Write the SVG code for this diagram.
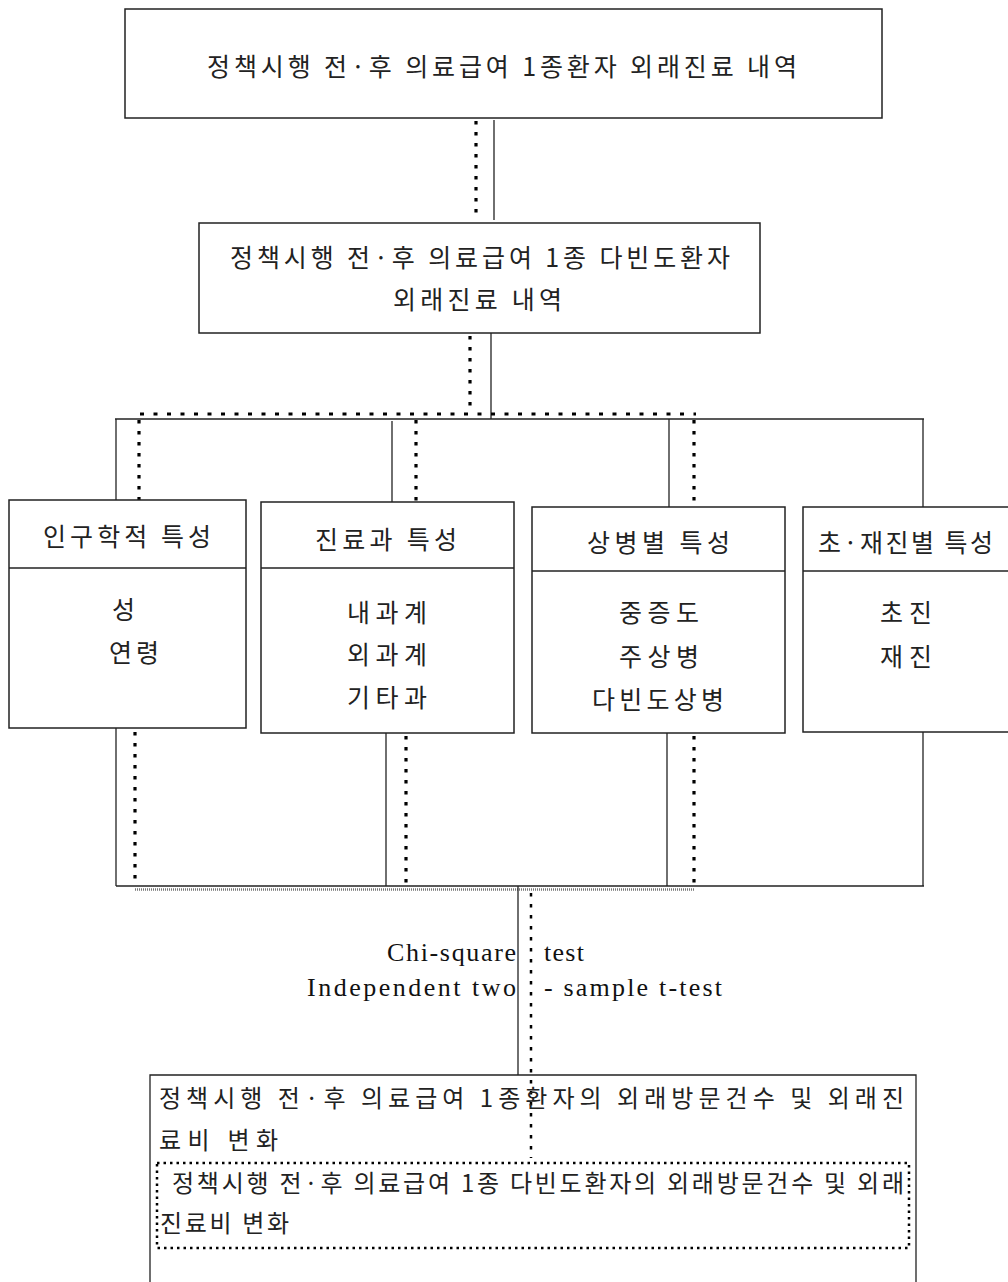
<svg xmlns="http://www.w3.org/2000/svg" width="1008" height="1282" viewBox="0 0 1008 1282">
<style>
.box{fill:#fff;stroke:#222;stroke-width:1.5}
.ln{fill:none;stroke:#222;stroke-width:1.3}
.dot{fill:none;stroke:#000;stroke-width:3.2;stroke-dasharray:3.5 7.5}
.doth{fill:none;stroke:#000;stroke-width:3.2;stroke-dasharray:4 9.5}
.dotf{fill:none;stroke:#000;stroke-width:2.5;stroke-dasharray:2.5 4}
.kr{font-family:"Noto Sans CJK KR","Noto Sans",sans-serif;font-size:25px;fill:#222}
.krs{font-family:"Noto Sans CJK KR","Noto Sans",sans-serif;font-size:24px;fill:#222}
.en{font-family:"Liberation Serif","DejaVu Serif",serif;font-size:26px;fill:#111}
</style>
<rect width="1008" height="1282" fill="#fff"/>
<g id="connectors">
<line class="dot" x1="476" y1="121" x2="476" y2="220"/>
<line class="ln" x1="494" y1="120" x2="494" y2="220"/>
<line class="dot" x1="470" y1="336" x2="470" y2="412"/>
<line class="ln" x1="491" y1="333" x2="491" y2="419"/>
<line class="doth" x1="140" y1="414" x2="696" y2="414"/>
<line class="ln" x1="115" y1="419" x2="924" y2="419"/>
<line class="ln" x1="116" y1="419" x2="116" y2="500"/>
<line class="ln" x1="392" y1="421" x2="392" y2="502"/>
<line class="ln" x1="669" y1="419" x2="669" y2="507"/>
<line class="ln" x1="923" y1="419" x2="923" y2="507"/>
<line class="dot" x1="139" y1="420" x2="139" y2="500"/>
<line class="dot" x1="416" y1="420" x2="416" y2="502"/>
<line class="dot" x1="694" y1="420" x2="694" y2="507"/>
<line class="ln" x1="116" y1="728" x2="116" y2="886"/>
<line class="ln" x1="386" y1="733" x2="386" y2="886"/>
<line class="ln" x1="667" y1="733" x2="667" y2="886"/>
<line class="ln" x1="923" y1="732" x2="923" y2="886"/>
<line class="dot" x1="135" y1="732" x2="135" y2="884"/>
<line class="dot" x1="406" y1="736" x2="406" y2="884"/>
<line class="dot" x1="694" y1="736" x2="694" y2="884"/>
<line class="ln" x1="116" y1="886" x2="924" y2="886"/>
<line x1="135" y1="889.5" x2="694" y2="889.5" stroke="#777" stroke-width="2.5" stroke-dasharray="1 1"/>
<line class="ln" x1="518" y1="886" x2="518" y2="1075"/>
<line x1="531" y1="893" x2="531" y2="1158" stroke="#000" stroke-width="2.5" stroke-dasharray="3.5 7.5"/>
</g>
<g id="top">
<rect class="box" x="125" y="9" width="757" height="109"/>
<text class="kr" x="207" y="76" textLength="590" lengthAdjust="spacing">정책시행 전·후 의료급여 1종환자 외래진료 내역</text>
</g>
<g id="mid">
<rect class="box" x="199" y="223" width="561" height="110"/>
<text class="kr" x="230" y="267" textLength="500" lengthAdjust="spacing">정책시행 전·후 의료급여 1종 다빈도환자</text>
<text class="kr" x="393" y="309" textLength="169" lengthAdjust="spacing">외래진료 내역</text>
</g>
<g id="demo">
<rect class="box" x="9" y="500" width="237" height="228"/>
<line class="ln" x1="9" y1="568" x2="246" y2="568" stroke-width="2"/>
<text class="kr" x="43" y="546" textLength="168" lengthAdjust="spacing">인구학적 특성</text>
<text class="kr" x="112" y="619">성</text>
<text class="kr" x="109" y="662" textLength="50" lengthAdjust="spacing">연령</text>
</g>
<g id="dept">
<rect class="box" x="261" y="502" width="253" height="231"/>
<line class="ln" x1="261" y1="568" x2="514" y2="568" stroke-width="2"/>
<text class="kr" x="315" y="549" textLength="142" lengthAdjust="spacing">진료과 특성</text>
<text class="kr" x="347" y="622" textLength="80" lengthAdjust="spacing">내과계</text>
<text class="kr" x="347" y="664" textLength="80" lengthAdjust="spacing">외과계</text>
<text class="kr" x="347" y="707" textLength="80" lengthAdjust="spacing">기타과</text>
</g>
<g id="disease">
<rect class="box" x="532" y="507" width="253" height="226"/>
<line class="ln" x1="532" y1="571" x2="785" y2="571" stroke-width="2"/>
<text class="kr" x="587" y="552" textLength="143" lengthAdjust="spacing">상병별 특성</text>
<text class="kr" x="619" y="622" textLength="80" lengthAdjust="spacing">중증도</text>
<text class="kr" x="619" y="666" textLength="80" lengthAdjust="spacing">주상병</text>
<text class="kr" x="592" y="709" textLength="132" lengthAdjust="spacing">다빈도상병</text>
</g>
<g id="visit">
<rect class="box" x="803" y="507" width="215" height="225"/>
<line class="ln" x1="803" y1="571" x2="1008" y2="571" stroke-width="2"/>
<text class="kr" x="818" y="552" textLength="175" lengthAdjust="spacing">초·재진별 특성</text>
<text class="kr" x="880" y="622" textLength="52" lengthAdjust="spacing">초진</text>
<text class="kr" x="880" y="666" textLength="52" lengthAdjust="spacing">재진</text>
</g>
<g id="tests">
<text class="en" x="387" y="961" textLength="129" lengthAdjust="spacing">Chi-square</text>
<text class="en" x="544" y="961" textLength="40" lengthAdjust="spacing">test</text>
<text class="en" x="307" y="996" textLength="209" lengthAdjust="spacing">Independent two</text>
<text class="en" x="544" y="996" textLength="178" lengthAdjust="spacing">- sample t-test</text>
</g>
<g id="result">
<path class="ln" d="M150,1282 V1075 H916 V1282" stroke-width="1.5"/>
<text class="krs" x="159" y="1107" textLength="745" lengthAdjust="spacing">정책시행 전·후 의료급여 1종환자의 외래방문건수 및 외래진</text>
<text class="krs" x="159" y="1149" textLength="119" lengthAdjust="spacing">료비 변화</text>
</g>
<g id="result-frequent">
<rect class="dotf" x="157" y="1163" width="752" height="85"/>
<text class="krs" x="172" y="1192" textLength="732" lengthAdjust="spacing">정책시행 전·후 의료급여 1종 다빈도환자의 외래방문건수 및 외래</text>
<text class="krs" x="160" y="1232" textLength="129" lengthAdjust="spacing">진료비 변화</text>
</g>
</svg>
